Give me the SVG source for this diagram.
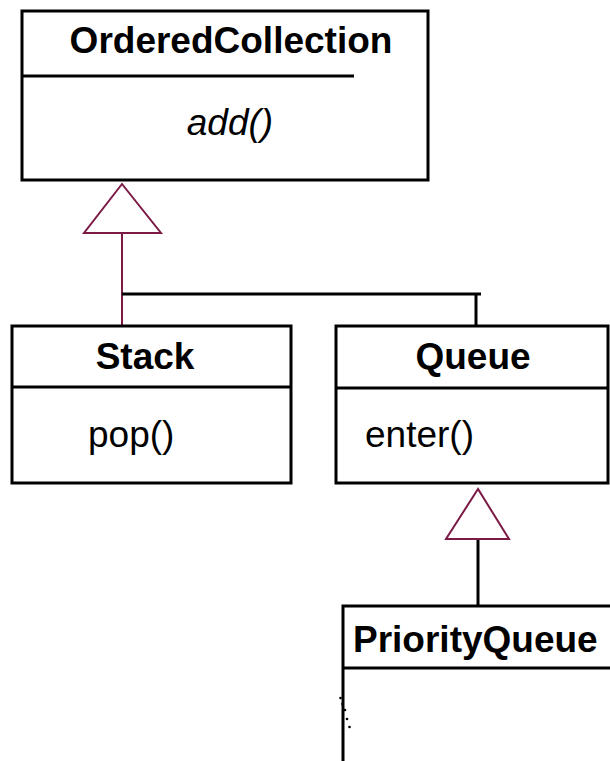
<svg xmlns="http://www.w3.org/2000/svg" width="610" height="761" viewBox="0 0 610 761">
<style>
.box{fill:#fff;stroke:#000;stroke-width:3}
.div{stroke:#000;stroke-width:3}
.b{font-family:"Liberation Sans",Arial,sans-serif;font-weight:bold;font-size:37px;fill:#000}
.r{font-family:"Liberation Sans",Arial,sans-serif;font-size:37px;fill:#000}
.tri{fill:#fff;stroke:#7b1a45;stroke-width:2}
</style>
<rect width="610" height="761" fill="#fff"/>
<g id="connectors">
<line x1="122" y1="233" x2="122" y2="326" stroke="#7b1a45" stroke-width="2"/>
<polyline points="122,294 481,294" fill="none" stroke="#000" stroke-width="3"/>
<line x1="476" y1="294" x2="476" y2="326" stroke="#000" stroke-width="3"/>
<polygon class="tri" points="122,184 84,233 161,233"/>
<line x1="478" y1="539" x2="478" y2="606" stroke="#000" stroke-width="3"/>
<polygon class="tri" points="478,489 446,539 509,539"/>
</g>
<g id="OrderedCollection">
<rect class="box" x="22" y="11" width="406" height="169"/>
<line class="div" x1="22" y1="76" x2="354" y2="76"/>
<text class="b" x="231" y="53" text-anchor="middle">OrderedCollection</text>
<text class="r" x="230" y="135" text-anchor="middle" font-style="italic">add()</text>
</g>
<g id="Stack">
<rect class="box" x="12" y="326" width="279" height="157"/>
<line class="div" x1="12" y1="387" x2="291" y2="387"/>
<text class="b" x="145" y="369" text-anchor="middle">Stack</text>
<text class="r" x="88" y="447">pop()</text>
</g>
<g id="Queue">
<rect class="box" x="336" y="326" width="272" height="157"/>
<line class="div" x1="336" y1="388" x2="608" y2="388"/>
<text class="b" x="473" y="369" text-anchor="middle">Queue</text>
<text class="r" x="365" y="447">enter()</text>
</g>
<g id="PriorityQueue">
<rect class="box" x="343" y="606" width="280" height="170"/>
<line class="div" x1="343" y1="668" x2="612" y2="668"/>
<text class="b" x="353" y="652">PriorityQueue</text>
<g fill="#000">
<circle cx="340.5" cy="698" r="1.3"/>
<circle cx="342.5" cy="704" r="1.3"/>
<circle cx="345" cy="710" r="1.3"/>
<circle cx="347" cy="719" r="1.3"/>
<circle cx="349.5" cy="727" r="1.3"/>
</g>
</g>
</svg>
